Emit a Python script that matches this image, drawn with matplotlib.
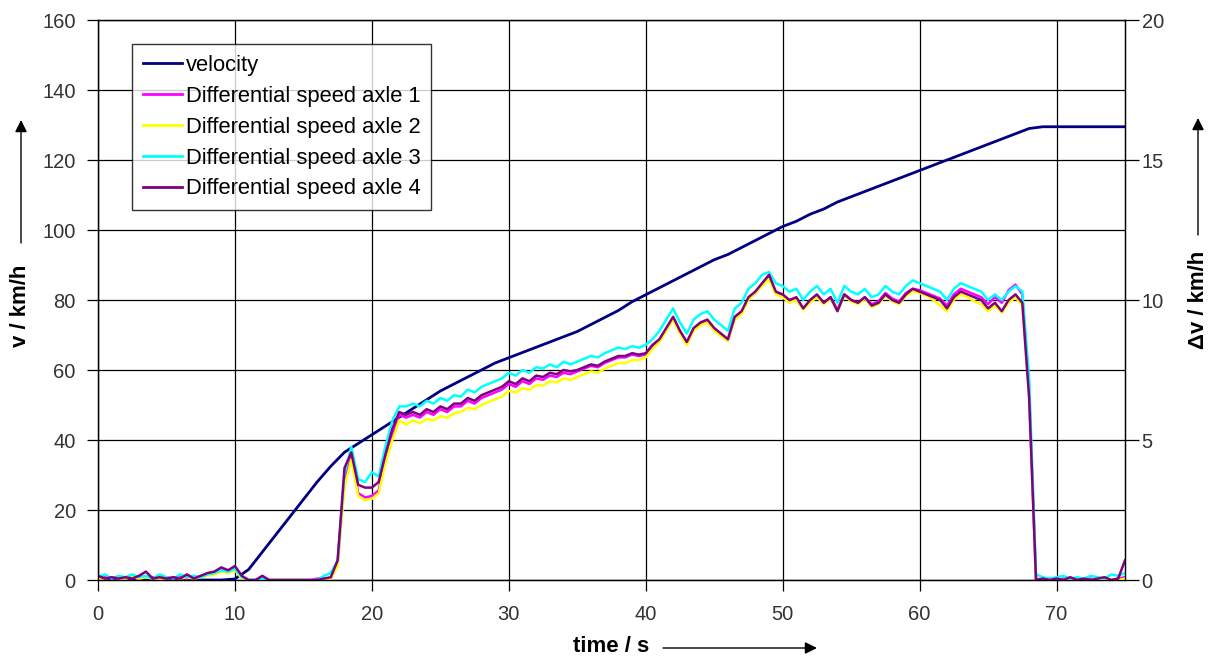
import numpy as np
import matplotlib
matplotlib.use("Agg")
import matplotlib.pyplot as plt

# ---------------- data ----------------
time_vel = list(range(0, 76))
velocity = [0, 0, 0, 0, 0, 0, 0, 0, 0, 0,
            0.3, 3, 8, 13, 18, 23, 28, 32.5, 36.5, 39,
            41.5, 44, 46.5, 49, 51.5, 54, 56, 58, 60, 62,
            63.5, 65, 66.5, 68, 69.5, 71, 73, 75, 77, 79.5,
            81.5, 83.5, 85.5, 87.5, 89.5, 91.5, 93, 95, 97, 99,
            101, 102.5, 104.5, 106, 108, 109.5, 111, 112.5, 114, 115.5,
            117, 118.5, 120, 121.5, 123, 124.5, 126, 127.5, 129, 129.5,
            129.5, 129.5, 129.5, 129.5, 129.5, 129.5]

time_diff = np.arange(0, 75.01, 0.5)

axle1 = [0.05, 0.10, 0.05, 0.10, 0.05, 0.10, 0.05, 0.10, 0.10, 0.05,
         0.10, 0.05, 0.10, 0.05, 0.10, 0.10, 0.20, 0.25, 0.40, 0.30,
         0.45, 0.10, 0.00, 0.00, 0.05, 0.00, 0.00, 0.00, 0.00, 0.00,
         0.00, 0.00, 0.05, 0.05, 0.05, 0.60, 3.60, 4.40, 3.10, 2.95,
         3.00, 3.20, 4.40, 5.20, 5.90, 5.80, 5.90, 5.80, 6.00, 5.90,
         6.10, 6.00, 6.20, 6.20, 6.40, 6.30, 6.50, 6.60, 6.70, 6.80,
         7.00, 6.90, 7.10, 7.00, 7.20, 7.15, 7.30, 7.25, 7.40, 7.35,
         7.45, 7.55, 7.65, 7.60, 7.75, 7.85, 7.95, 7.95, 8.05, 8.00,
         8.05, 8.35, 8.55, 8.95, 9.35, 8.85, 8.45, 8.95, 9.15, 9.25,
         8.95, 8.75, 8.55, 9.35, 9.55, 10.05, 10.25, 10.55, 10.80, 10.25,
         10.15, 9.95, 10.05, 9.70, 9.95, 10.15, 9.90, 10.10, 9.65, 10.20,
         10.00, 9.90, 10.10, 9.85, 9.95, 10.25, 10.05, 9.95, 10.25, 10.40,
         10.35, 10.25, 10.15, 10.05, 9.80, 10.20, 10.40, 10.30, 10.20, 10.10,
         9.85, 10.10, 9.90, 10.35, 10.55, 10.20, 6.70, 0.05, 0.00, 0.05,
         0.00, 0.05, 0.00, 0.05, 0.00, 0.05, 0.00, 0.05, 0.00, 0.05,
         0.10]

axle2 = [0.05, 0.05, 0.10, 0.05, 0.05, 0.10, 0.05, 0.10, 0.05, 0.05,
         0.05, 0.10, 0.05, 0.10, 0.05, 0.10, 0.15, 0.20, 0.30, 0.25,
         0.35, 0.05, 0.00, 0.00, 0.00, 0.00, 0.00, 0.00, 0.00, 0.00,
         0.00, 0.00, 0.00, 0.00, 0.05, 0.50, 3.30, 4.30, 3.00, 2.85,
         2.90, 3.10, 4.20, 5.00, 5.70, 5.55, 5.70, 5.60, 5.75, 5.70,
         5.85, 5.80, 5.95, 6.00, 6.15, 6.10, 6.25, 6.35, 6.45, 6.55,
         6.75, 6.70, 6.85, 6.80, 6.95, 6.95, 7.10, 7.05, 7.20, 7.15,
         7.25, 7.35, 7.45, 7.40, 7.55, 7.65, 7.75, 7.75, 7.85, 7.85,
         7.95, 8.25, 8.50, 8.90, 9.30, 8.80, 8.40, 8.90, 9.10, 9.20,
         8.90, 8.70, 8.55, 9.30, 9.50, 10.00, 10.25, 10.50, 10.75, 10.20,
         10.10, 9.90, 10.00, 9.65, 9.90, 10.10, 9.85, 10.05, 9.60, 10.15,
         9.95, 9.85, 10.05, 9.75, 9.85, 10.15, 9.95, 9.85, 10.15, 10.30,
         10.25, 10.15, 10.00, 9.80, 9.60, 10.00, 10.20, 10.10, 9.95, 9.85,
         9.60, 9.80, 9.55, 9.90, 10.10, 9.80, 6.60, 0.00, 0.00, 0.00,
         0.00, 0.00, 0.05, 0.00, 0.00, 0.00, 0.05, 0.00, 0.00, 0.00,
         0.05]

axle3 = [0.10, 0.20, 0.05, 0.15, 0.10, 0.20, 0.10, 0.15, 0.05, 0.20,
         0.10, 0.05, 0.20, 0.10, 0.15, 0.10, 0.20, 0.25, 0.35, 0.30,
         0.40, 0.10, 0.00, 0.00, 0.05, 0.00, 0.00, 0.00, 0.00, 0.00,
         0.00, 0.00, 0.00, 0.15, 0.25, 0.70, 3.80, 4.75, 3.60, 3.50,
         3.85, 3.70, 4.80, 5.70, 6.20, 6.20, 6.30, 6.20, 6.40, 6.30,
         6.50, 6.40, 6.60, 6.55, 6.80, 6.70, 6.90, 7.00, 7.10, 7.20,
         7.40, 7.30, 7.50, 7.40, 7.60, 7.55, 7.70, 7.60, 7.80, 7.70,
         7.80, 7.90, 8.00, 7.95, 8.10, 8.20, 8.30, 8.25, 8.35, 8.30,
         8.40, 8.60, 8.90, 9.30, 9.70, 9.20, 8.80, 9.30, 9.50, 9.60,
         9.30, 9.10, 8.90, 9.70, 9.90, 10.40, 10.60, 10.90, 11.00, 10.60,
         10.50, 10.30, 10.40, 10.00, 10.30, 10.50, 10.20, 10.40, 9.90, 10.50,
         10.30, 10.20, 10.40, 10.10, 10.20, 10.50, 10.30, 10.20, 10.50, 10.70,
         10.60, 10.50, 10.40, 10.30, 10.00, 10.40, 10.60, 10.50, 10.40, 10.30,
         10.00, 10.20, 10.00, 10.30, 10.50, 10.30, 7.20, 0.20, 0.10, 0.05,
         0.10, 0.15, 0.05, 0.10, 0.05, 0.15, 0.10, 0.05, 0.20, 0.15,
         0.25]

axle4 = [0.15, 0.05, 0.10, 0.05, 0.10, 0.05, 0.15, 0.30, 0.05, 0.10,
         0.05, 0.10, 0.05, 0.20, 0.05, 0.15, 0.25, 0.30, 0.45, 0.35,
         0.50, 0.15, 0.00, 0.00, 0.15, 0.00, 0.00, 0.00, 0.00, 0.00,
         0.00, 0.00, 0.00, 0.05, 0.10, 0.70, 4.00, 4.55, 3.40, 3.30,
         3.30, 3.50, 4.50, 5.40, 6.00, 5.90, 6.00, 5.90, 6.10, 6.00,
         6.20, 6.10, 6.30, 6.30, 6.50, 6.40, 6.60, 6.70, 6.80, 6.90,
         7.10, 7.00, 7.20, 7.10, 7.30, 7.25, 7.40, 7.35, 7.50, 7.45,
         7.50, 7.60, 7.70, 7.65, 7.80, 7.90, 8.00, 8.00, 8.10, 8.05,
         8.10, 8.40, 8.60, 9.00, 9.40, 8.90, 8.50, 9.00, 9.20, 9.30,
         9.00, 8.80, 8.60, 9.40, 9.60, 10.10, 10.30, 10.60, 10.90, 10.30,
         10.20, 10.00, 10.10, 9.70, 10.00, 10.20, 9.90, 10.10, 9.60, 10.20,
         10.00, 9.90, 10.10, 9.80, 9.90, 10.20, 10.00, 9.90, 10.20, 10.40,
         10.30, 10.20, 10.10, 10.00, 9.70, 10.10, 10.30, 10.20, 10.10, 10.00,
         9.70, 9.90, 9.60, 10.00, 10.20, 9.90, 6.50, 0.00, 0.05, 0.00,
         0.05, 0.00, 0.10, 0.00, 0.05, 0.00, 0.05, 0.10, 0.00, 0.05,
         0.70]

labels = ["velocity", "Differential speed axle 1", "Differential speed axle 2",
          "Differential speed axle 3", "Differential speed axle 4"]
x_ticks = [0, 10, 20, 30, 40, 50, 60, 70]
left_ticks = [0, 20, 40, 60, 80, 100, 120, 140, 160]
right_ticks = [0, 5, 10, 15, 20]

# ---------------- figure ----------------
plt.rcParams['font.family'] = ['Liberation Sans', 'DejaVu Sans']
W, H = 1218, 661
fig = plt.figure(figsize=(W / 100, H / 100), dpi=100)
ax = fig.add_axes([98 / W, 81 / H, (1125 - 98) / W, (580 - 20) / H])
ax2 = ax.twinx()

colors = ["#000080", "#FF00FF", "#FFFF00", "#00FFFF", "#800080"]

lv, = ax.plot(time_vel, velocity, color=colors[0], lw=2.0, zorder=3)
series = [axle1, axle2, axle3, axle4]
handles = [lv]
for s, c in zip(series, colors[1:]):
    h, = ax2.plot(time_diff, s, color=c, lw=1.8)
    handles.append(h)

ax.set_xlim(0, 75)
ax.set_ylim(0, 160)
ax2.set_ylim(0, 20)
ax.set_xticks(x_ticks)
ax.set_yticks(left_ticks)
ax2.set_yticks(right_ticks)
ax.grid(True, color="black", lw=0.9)
ax.set_axisbelow(True)

tick_color = "#333333"
ax.tick_params(axis='y', direction='out', length=8, width=0.9,
               labelsize=14.5, labelcolor=tick_color, pad=8)
ax.tick_params(axis='x', direction='out', length=8, width=0.9,
               labelsize=14.5, labelcolor=tick_color, pad=10)
ax2.tick_params(axis='y', direction='out', length=10, width=0.9,
                labelsize=14.5, labelcolor=tick_color, pad=2)
for sp in list(ax.spines.values()) + list(ax2.spines.values()):
    sp.set_linewidth(0.9)
    sp.set_color("black")

leg = ax2.legend(handles, labels, loc='upper left',
                 bbox_to_anchor=((132 - 98) / (1125 - 98), 1 - (44 - 20) / 560),
                 fontsize=15.8, frameon=True, fancybox=False, borderpad=0.5,
                 handlelength=1.8, handletextpad=0.15, labelspacing=0.45,
                 borderaxespad=0)
leg.get_frame().set_edgecolor("black")
leg.get_frame().set_linewidth(1.0)
for lh in leg.get_lines():
    lh.set_linewidth(2.0)

# axis labels with arrows
fig.text(21 / W, 1 - 306 / H, "v / km/h", rotation=90, ha='center', va='center',
         fontsize=16, fontweight='bold')
fig.text(1198 / W, 1 - 300 / H, "\u0394v / km/h", rotation=90, ha='center',
         va='center', fontsize=16, fontweight='bold')
fig.text(611 / W, 1 - 646 / H, "time / s", ha='center', va='center',
         fontsize=16, fontweight='bold')

arrow_kw = dict(arrowstyle='-|>', color='black', lw=1.0, mutation_scale=18,
                shrinkA=0, shrinkB=0)
ax.annotate("", xy=(21, H - 120), xytext=(21, H - 243),
            xycoords='figure pixels', textcoords='figure pixels',
            arrowprops=arrow_kw, annotation_clip=False)
ax.annotate("", xy=(1198, H - 118), xytext=(1198, H - 235),
            xycoords='figure pixels', textcoords='figure pixels',
            arrowprops=arrow_kw, annotation_clip=False)
ax.annotate("", xy=(817, H - 648), xytext=(663, H - 648),
            xycoords='figure pixels', textcoords='figure pixels',
            arrowprops=arrow_kw, annotation_clip=False)

fig.savefig("out.png", dpi=100)
